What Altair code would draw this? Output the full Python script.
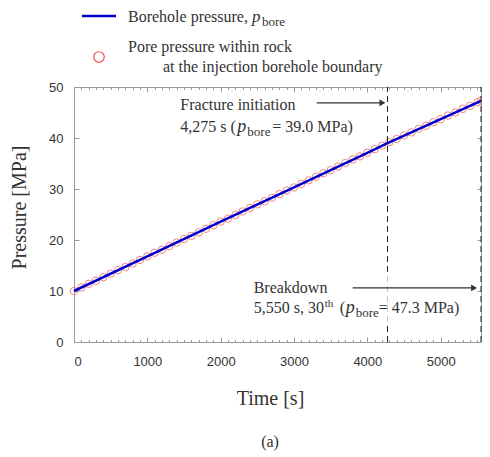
import altair as alt
import pandas as pd

# ---------------- data ----------------
bore_time = [0, 1000, 2000, 3000, 4000, 4275, 5000, 5550]
bore_pressure = [10.0, 16.8, 23.6, 30.3, 37.1, 39.0, 43.7, 47.3]

pore_time = [0, 100, 200, 300, 400, 500, 600, 700, 800, 900,
             1000, 1100, 1200, 1300, 1400, 1500, 1600, 1700, 1800, 1900,
             2000, 2100, 2200, 2300, 2400, 2500, 2600, 2700, 2800, 2900,
             3000, 3100, 3200, 3300, 3400, 3500, 3600, 3700, 3800, 3900,
             4000, 4100, 4200, 4300, 4400, 4500, 4600, 4700, 4800, 4900,
             5000, 5100, 5200, 5300, 5400, 5500, 5550]
pore_pressure = [10.0, 10.7, 11.4, 12.0, 12.7, 13.4, 14.1, 14.7, 15.4, 16.1,
                 16.8, 17.5, 18.1, 18.8, 19.5, 20.2, 20.8, 21.5, 22.2, 22.9,
                 23.6, 24.2, 24.9, 25.6, 26.3, 27.0, 27.6, 28.3, 29.0, 29.7,
                 30.3, 31.0, 31.7, 32.4, 33.1, 33.7, 34.4, 35.1, 35.8, 36.4,
                 37.1, 37.8, 38.5, 39.2, 39.8, 40.5, 41.1, 41.8, 42.4, 43.1,
                 43.7, 44.4, 45.0, 45.7, 46.3, 47.0, 47.3]

event_time = [4275, 5550]          # fracture initiation, breakdown
x_major = [0, 1000, 2000, 3000, 4000, 5000]
x_minor = list(range(0, 5600, 100))
y_major = [0, 10, 20, 30, 40, 50]

legend_bore = "Borehole pressure,"
legend_pore_1 = "Pore pressure within  rock"
legend_pore_2 = "at the injection  borehole boundary"
frac_title = "Fracture initiation"
frac_a, frac_b = "4,275 s (", "= 39.0 MPa)"
brk_title = "Breakdown"
brk_a, brk_th, brk_b, brk_c = "5,550 s, 30", "th", "(", "= 47.3 MPa)"
sym_p, sym_bore = "p", "bore"
panel_label = "(a)"

# ---------------- layout ----------------
W, H = 407, 255
GRAY = "#9a9a9a"
TXT = "#333333"
SERIF = "Liberation Serif"
SANS = "Liberation Sans"

XS = alt.Scale(domain=[0, 5550], nice=False, zero=False)
YS = alt.Scale(domain=[0, 50], nice=False, zero=False)

main_x = alt.Axis(orient="bottom", values=x_major, ticks=False, tickSize=0,
                  labelPadding=13, labelFontSize=13, labelColor=TXT, labelFont=SANS,
                  domainColor=GRAY, title="Time [s]", titleFont=SERIF, titleFontSize=20,
                  titleFontWeight="normal", titleColor=TXT, titleX=196, titleY=46,
                  titleBaseline="top", titleAlign="center", grid=False, format="d")
main_y = alt.Axis(orient="left", values=y_major, ticks=False, tickSize=0,
                  labelPadding=11, labelFontSize=13, labelColor=TXT, labelFont=SANS,
                  domainColor=GRAY, title="Pressure [MPa]", titleFont=SERIF,
                  titleFontSize=20, titleFontWeight="normal", titleColor=TXT,
                  titleX=-55, titleY=120, titleAngle=270, titleBaseline="middle",
                  titleAlign="center", grid=False)


def tick_axis(orient, values, size, offset, domain=False):
    return alt.Axis(orient=orient, offset=offset, values=values, tickSize=size,
                    labels=False, domain=domain, domainColor=GRAY, tickColor=GRAY,
                    title=None, grid=False)


bot_major = tick_axis("top", x_major, 5, -H)
bot_minor = tick_axis("top", x_minor, 2.5, -H)
top_major = tick_axis("bottom", x_major, 5, -H, domain=True)
top_minor = tick_axis("bottom", x_minor, 2.5, -H)
left_major = tick_axis("right", y_major, 5, -W)
right_border = tick_axis("left", y_major, 4, -W, domain=True)

df_bore = pd.DataFrame({"t": bore_time, "p": bore_pressure})
df_pore = pd.DataFrame({"t": pore_time, "p": pore_pressure})
df_event = pd.DataFrame({"t": event_time, "lo": [0, 0], "hi": [50, 50]})

circles = alt.Chart(df_pore).mark_point(
    shape="circle", filled=False, size=55, color="#f07878", strokeWidth=1, opacity=0.9
).encode(x=alt.X("t:Q", scale=XS, axis=main_x), y=alt.Y("p:Q", scale=YS, axis=main_y))

line = alt.Chart(df_bore).mark_line(color="#0000cc", strokeWidth=2.5).encode(
    x=alt.X("t:Q", scale=XS, axis=bot_major), y=alt.Y("p:Q", scale=YS, axis=left_major))

rules = alt.Chart(df_event).mark_rule(color="#222222", strokeDash=[6, 4], strokeWidth=1).encode(
    x=alt.X("t:Q", scale=XS, axis=bot_minor),
    y=alt.Y("lo:Q", scale=YS, axis=right_border), y2="hi:Q")

df_box = pd.DataFrame({"x0": [2330], "x1": [5466], "y0": [3.7], "y1": [13.1]})
box = alt.Chart(df_box).mark_rect(color="white", opacity=0.75).encode(
    x=alt.X("x0:Q", scale=XS, axis=top_major), x2="x1:Q",
    y=alt.Y("y0:Q", scale=YS, axis=None), y2="y1:Q")

df_arrow = pd.DataFrame({"x0": [3310, 3800], "x1": [4230, 5480], "p": [46.9, 10.6],
                         "tip": [4205, 5455]})
arrows = alt.Chart(df_arrow).mark_rule(color="#333333", strokeWidth=1.2).encode(
    x=alt.X("x0:Q", scale=XS, axis=top_minor), x2="x1:Q",
    y=alt.Y("p:Q", scale=YS, axis=None))
heads = alt.Chart(df_arrow).mark_point(shape="triangle-right", filled=True, size=45,
                                       color="#333333", opacity=1).encode(
    x=alt.X("tip:Q", scale=XS, axis=None), y=alt.Y("p:Q", scale=YS, axis=None))


def seg(t, p, text, dx=0, dy=0, size=16, style="normal"):
    d = pd.DataFrame({"t": [t], "p": [p], "s": [text]})
    return alt.Chart(d).mark_text(align="left", baseline="alphabetic", dx=dx, dy=dy,
                                  font=SERIF, fontSize=size, fontStyle=style,
                                  color=TXT).encode(
        x=alt.X("t:Q", scale=XS, axis=None), y=alt.Y("p:Q", scale=YS, axis=None),
        text="s:N")


def pix(x, y, text, dx=0, dy=0, size=16, style="normal", align="left"):
    d = pd.DataFrame({"s": [text]})
    return alt.Chart(d).mark_text(align=align, baseline="alphabetic", dx=dx, dy=dy,
                                  font=SERIF, fontSize=size, fontStyle=style,
                                  color=TXT).encode(
        x=alt.value(x), y=alt.value(y), text="s:N")


FT, FP1, FP2 = 1450, 45.5, 41.2
BT, BP1, BP2 = 2450, 9.6, 5.7
texts = [
    seg(FT, FP1, frac_title),
    seg(FT, FP2, frac_a),
    seg(FT, FP2, sym_p, dx=57, size=18, style="italic"),
    seg(FT, FP2, sym_bore, dx=67, dy=4, size=13),
    seg(FT, FP2, frac_b, dx=92),
    seg(BT, BP1, brk_title),
    seg(BT, BP2, brk_a),
    seg(BT, BP2, brk_th, dx=71, dy=-6, size=11),
    seg(BT, BP2, brk_b, dx=86),
    seg(BT, BP2, sym_p, dx=92, size=18, style="italic"),
    seg(BT, BP2, sym_bore, dx=102, dy=4, size=13),
    seg(BT, BP2, brk_c, dx=125),
]

dummy = pd.DataFrame({"k": [0]})
leg_line = alt.Chart(dummy).mark_rule(color="#0000cc", strokeWidth=2.5).encode(
    x=alt.value(8), x2=alt.value(42), y=alt.value(-71))
leg_circle = alt.Chart(dummy).mark_point(shape="circle", filled=False, size=110,
                                         color="#f05050", strokeWidth=1.2, opacity=1).encode(
    x=alt.value(25), y=alt.value(-30))
legend = [
    leg_line, leg_circle,
    pix(54, -65, legend_bore),
    pix(178, -65, sym_p, size=17, style="italic"),
    pix(188, -61, sym_bore, size=13),
    pix(54, -35, legend_pore_1),
    pix(89, -15, legend_pore_2),
    pix(196, 360, panel_label, align="center"),
]

chart = alt.layer(circles, line, rules, box, arrows, heads, *texts, *legend).resolve_axis(
    x="independent", y="independent"
).properties(
    width=W, height=H,
    autosize=alt.AutoSizeParams(type="none"),
    padding={"left": 66, "top": 79, "right": 1, "bottom": 113},
).configure_view(stroke=None)

chart.save("out.html", embed_options={"renderer": "svg", "actions": False})
